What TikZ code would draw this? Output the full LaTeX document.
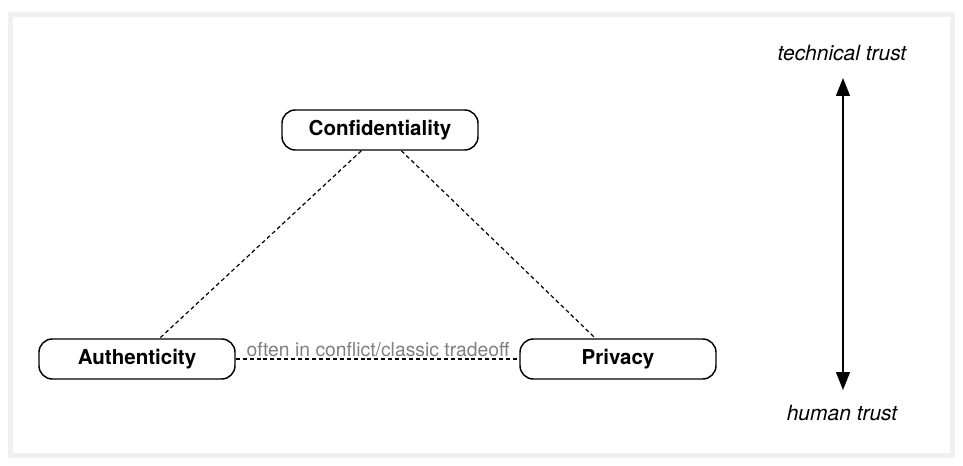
\documentclass[tikz,border=0pt]{standalone}
\usepackage{fontspec}
\setmainfont{TeX Gyre Heros}
\usetikzlibrary{shapes}
\usetikzlibrary{arrows.meta}
\usetikzlibrary{positioning}
\usetikzlibrary{calc}
\tikzstyle{prop}=[
        rectangle,
        draw,
        rounded corners=10pt,
        line width=1.1pt,
        minimum width=147pt,
        minimum height=30pt,
        font=\fontsize{15.4}{18}\selectfont\bfseries
]
\tikzstyle{axe}=[font=\fontsize{15.75}{18}\selectfont\itshape]
\tikzstyle{note}=[text=gray,font=\fontsize{14.5}{16}\selectfont,inner sep=1pt]
\tikzstyle{lien}=[dash pattern=on 3pt off 2.2pt,line width=0.9pt]
\tikzstyle{fleche}=[{Triangle[length=13.5pt,width=10.5pt]}-{Triangle[length=13.5pt,width=10.5pt]},line width=1pt]

\begin{document}
\begin{tikzpicture}[x=0.75pt,y=-0.75pt]
\useasboundingbox (0,0) rectangle (963,466);
%cadre
\fill[gray!12] (8,12) rectangle (955,458);
\fill[white] (13,17) rectangle (950,453);
\node[prop] (conf) at (380,130) {Confidentiality};
\node[prop] (auth) at (137,359) {Authenticity};
\node[prop] (priv) at (618,359) {Privacy};
\node[note] (conflit) at (378,350) {often in conflict/classic tradeoff};
\node[axe] (tech) at (842,53) {technical trust};
\node[axe] (human) at (842,413) {human trust};
\coordinate (haut) at (843,78);
\coordinate (bas) at (843,390);
%liens
\draw[lien] ([xshift=-14pt]conf.south) -- ([xshift=17pt]auth.north);
\draw[lien] ([xshift=16pt]conf.south) -- ([xshift=-17pt]priv.north);
\draw[lien] (auth) -- (priv);
\draw[fleche] (haut) -- (bas);
\end{tikzpicture}
\end{document}
